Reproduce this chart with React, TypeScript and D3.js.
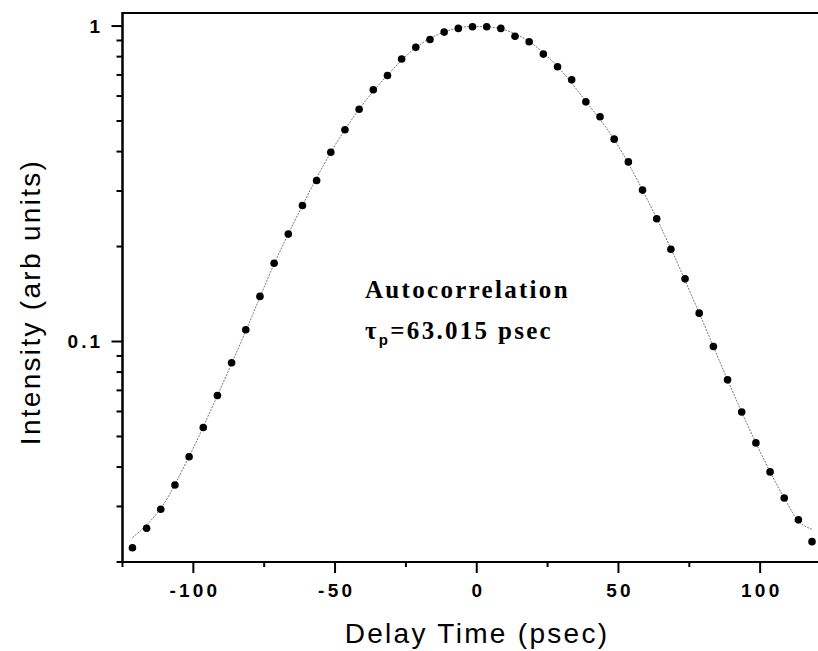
import React from "react";
import * as d3 from "d3";

// measured data points (psec, arb units)
const delay = [
  -121.5, -116.5, -111.5, -106.5, -101.5, -96.5, -91.5, -86.5, -81.5, -76.5,
  -71.5, -66.5, -61.5, -56.5, -51.5, -46.5, -41.5, -36.5, -31.5, -26.5,
  -21.5, -16.5, -11.5, -6.5, -1.5, 3.5, 8.5, 13.5, 18.5, 23.5,
  28.5, 33.5, 38.5, 43.5, 48.5, 53.5, 58.5, 63.5, 68.5, 73.5,
  78.5, 83.5, 88.5, 93.5, 98.5, 103.5, 108.5, 113.5, 118.3,
];
const intensity = [
  0.0222, 0.0256, 0.0294, 0.0351, 0.0431, 0.0534, 0.0674, 0.0856, 0.109, 0.139,
  0.177, 0.219, 0.27, 0.324, 0.398, 0.469, 0.545, 0.628, 0.697, 0.786,
  0.856, 0.907, 0.957, 0.983, 0.995, 0.995, 0.983, 0.928, 0.892, 0.815,
  0.743, 0.676, 0.575, 0.516, 0.438, 0.371, 0.302, 0.245, 0.196, 0.158,
  0.123, 0.0964, 0.0756, 0.0598, 0.0477, 0.0386, 0.0319, 0.0272, 0.0232,
];

// fitted curve
const fitDelay = [
  -121.5, -116.5, -111.5, -101.5, -91.5, -81.5, -71.5, -61.5, -51.5, -41.5,
  -31.5, -21.5, -11.5, -1.5, 3.5, 8.5, 18.5, 28.5, 38.5, 48.5,
  58.5, 68.5, 78.5, 88.5, 98.5, 108.5, 113.5, 118.3,
];
const fitIntensity = [
  0.0239, 0.0262, 0.0296, 0.0432, 0.0675, 0.108, 0.176, 0.27, 0.398, 0.545,
  0.699, 0.855, 0.957, 0.997, 0.995, 0.98, 0.893, 0.744, 0.577, 0.437,
  0.302, 0.197, 0.123, 0.0756, 0.0477, 0.0319, 0.027, 0.0254,
];

const xMajor = [-100, -50, 0, 50, 100];
const xMinor = [-125, -75, -25, 25, 75, 125];
const xTickLabels = ["-100", "-50", "0", "50", "100"];
const yMajor = [1, 0.1];
const yTickLabels = ["1", "0.1"];
const yMinor = [
  0.02, 0.03, 0.04, 0.05, 0.06, 0.07, 0.08, 0.09,
  0.2, 0.3, 0.4, 0.5, 0.6, 0.7, 0.8, 0.9,
];

const W = 818;
const H = 651;
const left = 122.5;
const top = 13;
const bottom = 562;

const sans = "'Liberation Sans', Arial, sans-serif";
const serif = "'Liberation Serif', 'Times New Roman', serif";

export default function App() {
  const x = d3.scaleLinear().domain([-125, 125]).range([left, left + 250 * 2.834]);
  const y = d3.scaleLog().domain([0.02, 1.1]).range([bottom, top]);

  const fitLine = d3
    .line<number>()
    .x((_, i) => x(fitDelay[i]))
    .y((d) => y(d))
    .curve(d3.curveMonotoneX);

  return (
    <svg
      width={W}
      height={H}
      style={{ position: "absolute", left: 0, top: 0, background: "#fff" }}
    >
      {/* fit */}
      <path
        d={fitLine(fitIntensity) || ""}
        fill="none"
        stroke="#555"
        strokeWidth={0.8}
        strokeDasharray="2 1.2"
      />
      {/* points */}
      {intensity.map((v, i) => (
        <circle key={i} cx={x(delay[i])} cy={y(v)} r={3.8} fill="#000" />
      ))}

      {/* frame */}
      <line x1={left} x2={W} y1={top} y2={top} stroke="#000" strokeWidth={2} />
      <line x1={left} x2={W} y1={bottom} y2={bottom} stroke="#000" strokeWidth={2} />
      <line x1={left} x2={left} y1={top - 1} y2={bottom} stroke="#000" strokeWidth={2.5} />

      {/* x ticks */}
      {xMajor.map((t) => (
        <line key={"xM" + t} x1={x(t)} x2={x(t)} y1={bottom} y2={bottom + 11} stroke="#000" strokeWidth={2} />
      ))}
      {xMinor.map((t) => (
        <line key={"xm" + t} x1={x(t)} x2={x(t)} y1={bottom} y2={bottom + 5} stroke="#000" strokeWidth={2} />
      ))}
      {xMajor.map((t, i) => (
        <text
          key={"xl" + t}
          x={x(t) + 1.6}
          y={597}
          textAnchor="middle"
          fontFamily={sans}
          fontWeight="bold"
          fontSize={19}
          letterSpacing={3.2}
        >
          {xTickLabels[i]}
        </text>
      ))}

      {/* y ticks */}
      {yMajor.map((t) => (
        <line key={"yM" + t} x1={left - 11} x2={left} y1={y(t)} y2={y(t)} stroke="#000" strokeWidth={2} />
      ))}
      {yMinor.map((t) => (
        <line key={"ym" + t} x1={left - 6} x2={left} y1={y(t)} y2={y(t)} stroke="#000" strokeWidth={2} />
      ))}
      {yMajor.map((t, i) => (
        <text
          key={"yl" + t}
          x={103}
          y={y(t) + 6.5}
          textAnchor="end"
          fontFamily={sans}
          fontWeight="bold"
          fontSize={19}
          letterSpacing={3}
        >
          {yTickLabels[i]}
        </text>
      ))}

      {/* axis titles */}
      <text
        x={477}
        y={643}
        textAnchor="middle"
        fontFamily={sans}
        fontSize={28}
        letterSpacing={2.3}
      >
        Delay Time (psec)
      </text>
      <text
        transform="translate(40,302) rotate(-90)"
        textAnchor="middle"
        fontFamily={sans}
        fontSize={28}
        letterSpacing={2.3}
      >
        Intensity (arb units)
      </text>

      {/* annotation */}
      <text x={365} y={298} fontFamily={serif} fontWeight="bold" fontSize={25} letterSpacing={2.3}>
        Autocorrelation
      </text>
      <text x={365} y={339} fontFamily={serif} fontWeight="bold" fontSize={25} letterSpacing={2.3}>
        τ
        <tspan fontFamily={sans} fontSize={15} dy={6}>p</tspan>
        <tspan dy={-6}>=63.015 psec</tspan>
      </text>
    </svg>
  );
}
